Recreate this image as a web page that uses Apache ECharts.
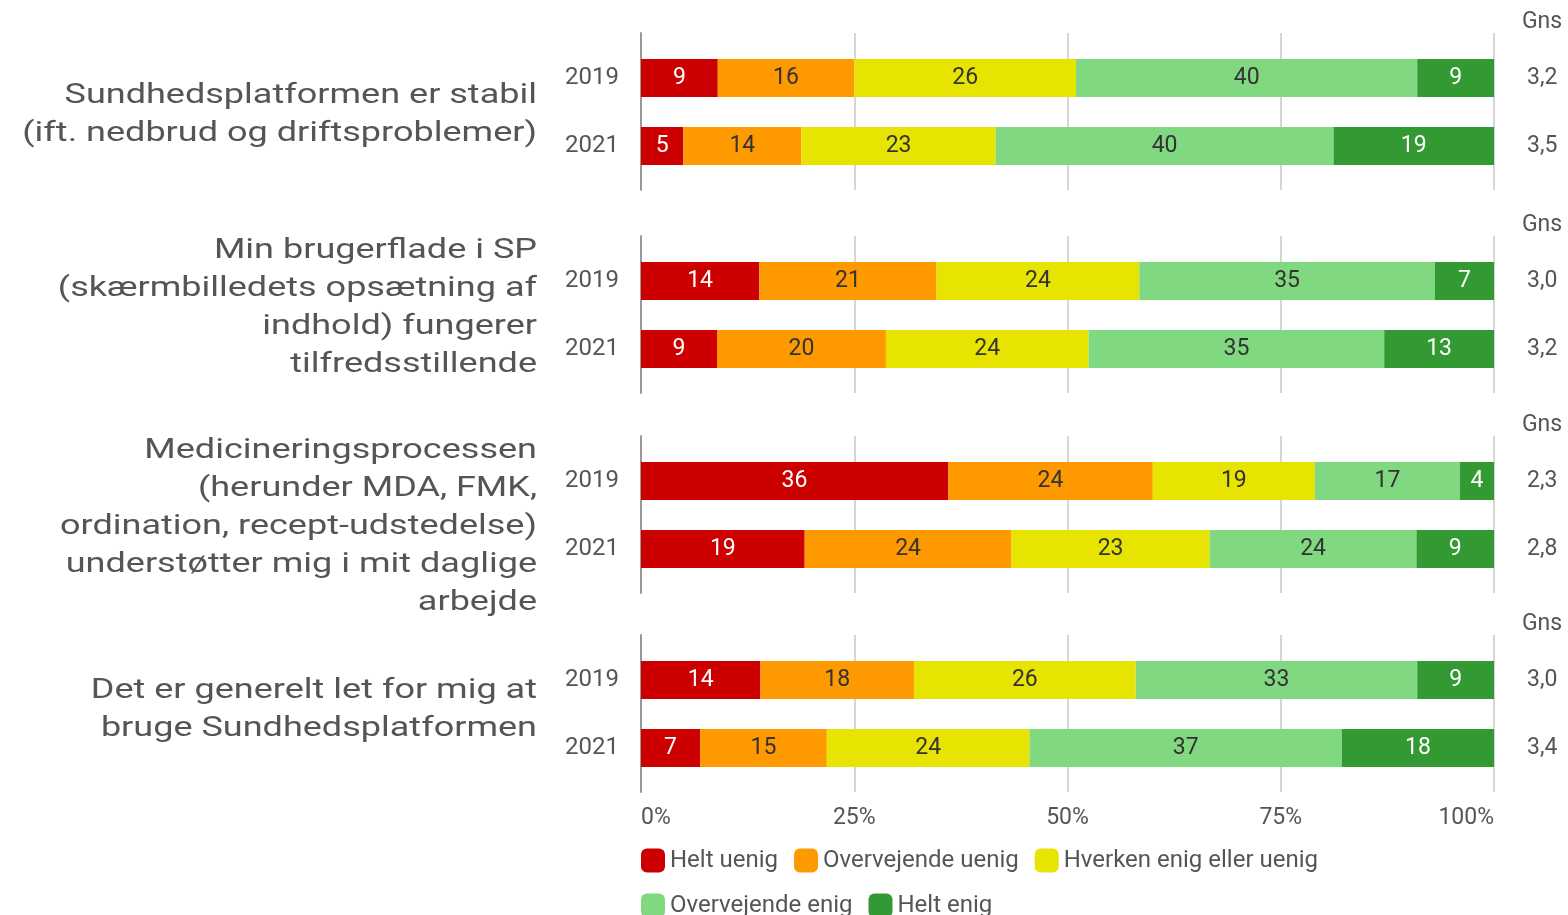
<!DOCTYPE html>
<html>
<head>
<meta charset="utf-8">
<script src="https://cdn.jsdelivr.net/npm/echarts@6/dist/echarts.min.js"></script>
<style>
  html, body { margin: 0; background: #fff; }
  #chart { width: 1568px; height: 915px; }
</style>
</head>
<body>
<div id="chart"></div>
<script>
// spørgsmål (venstre tekst)
const questions = [
  'Sundhedsplatformen er stabil\n(ift. nedbrud og driftsproblemer)',
  'Min brugerflade i SP\n(skærmbilledets opsætning af\nindhold) fungerer\ntilfredsstillende',
  'Medicineringsprocessen\n(herunder MDA, FMK,\nordination, recept-udstedelse)\nunderstøtter mig i mit daglige\narbejde',
  'Det er generelt let for mig at\nbruge Sundhedsplatformen'
];
const years = ['2019', '2021'];
const answers = ['Helt uenig', 'Overvejende uenig', 'Hverken enig eller uenig', 'Overvejende enig', 'Helt enig'];

// procent pr. svar (rækkefølge som answers), [2019, 2021]
const stabil = [[9, 16, 26, 40, 9], [5, 14, 23, 40, 19]];
const brugerflade = [[14, 21, 24, 35, 7], [9, 20, 24, 35, 13]];
const medicinering = [[36, 24, 19, 17, 4], [19, 24, 23, 24, 9]];
const letAtBruge = [[14, 18, 26, 33, 9], [7, 15, 24, 37, 18]];
const panels = [stabil, brugerflade, medicinering, letAtBruge];

// gennemsnit (Gns) pr. år
const gennemsnit = [['3,2', '3,5'], ['3,0', '3,2'], ['2,3', '2,8'], ['3,0', '3,4']];

const colors = ['#cc0000', '#ff9900', '#e6e400', '#80d880', '#339933'];
const labelColors = ['#fff', '#333', '#333', '#333', '#fff'];

// layout
const panelTops = [33, 236, 436, 635];
const panelHeight = 157;
const textCenters = [115, 308, 527, 710];
const gridLeft = 641;
const gridRight = 74;
const FONT = 'Roboto, sans-serif';

const chart = echarts.init(document.getElementById('chart'));

const grid = [];
const xAxis = [];
const yAxis = [];
const series = [];
const graphic = [];

panels.forEach((rows, p) => {
  const top = panelTops[p];
  const bgIdx = p * 2;
  const barIdx = p * 2 + 1;

  // baggrund med lodrette linjer
  grid.push({ left: gridLeft, right: gridRight, top: top, height: panelHeight });
  // grid til søjler
  grid.push({ left: gridLeft, right: gridRight, top: top + 11, height: 136 });

  const isLast = p === panels.length - 1;
  xAxis.push({
    type: 'value', gridIndex: bgIdx, min: 0, max: 100, interval: 25,
    axisLine: { show: false }, axisTick: { show: false },
    splitLine: { show: true, lineStyle: { color: '#c8c8c8', width: 1.5 } },
    axisLabel: {
      show: isLast, formatter: '{value}%', color: '#555', fontSize: 23,
      fontFamily: FONT, margin: 15, alignMinLabel: 'left', alignMaxLabel: 'right'
    }
  });
  xAxis.push({
    type: 'value', gridIndex: barIdx, min: 0, max: 100,
    show: false, splitLine: { show: false }
  });

  yAxis.push({
    type: 'value', gridIndex: bgIdx, min: 0, max: 1,
    axisLine: { show: true, lineStyle: { color: '#999', width: 2 } },
    axisTick: { show: false }, axisLabel: { show: false }, splitLine: { show: false }
  });
  yAxis.push({
    type: 'category', gridIndex: barIdx, data: years, inverse: true,
    axisLine: { show: false }, axisTick: { show: false },
    axisLabel: { color: '#555', fontSize: 24, fontFamily: FONT, margin: 22, padding: [3, 0, 0, 0] }
  });
  yAxis.push({
    type: 'category', gridIndex: barIdx, data: gennemsnit[p], inverse: true, position: 'right',
    axisLine: { show: false }, axisTick: { show: false },
    axisLabel: { color: '#555', fontSize: 23, fontFamily: FONT, margin: 33, padding: [3, 0, 0, 0] }
  });

  answers.forEach((name, a) => {
    series.push({
      name: name,
      type: 'bar',
      stack: 'panel' + p,
      xAxisIndex: barIdx,
      yAxisIndex: p * 3 + 1,
      barWidth: 38,
      itemStyle: { color: colors[a] },
      label: {
        show: true, position: 'inside', color: labelColors[a],
        fontSize: 23, fontFamily: FONT, padding: [3, 0, 0, 0],
        formatter: (prm) => prm.data.raw
      },
      data: rows.map(r => {
        const sum = r.reduce((s, v) => s + v, 0);
        return { value: r[a] / sum * 100, raw: r[a] };
      })
    });
  });

  graphic.push({
    type: 'text', x: 537, y: textCenters[p], scaleX: 1.31,
    style: {
      text: questions[p], align: 'right', verticalAlign: 'middle',
      fontSize: 27.5, fontFamily: FONT, fill: '#555', lineHeight: 38
    }
  });
  graphic.push({
    type: 'text', x: 1542, y: top - 11,
    style: {
      text: 'Gns', align: 'center', verticalAlign: 'middle',
      fontSize: 23, fontFamily: FONT, fill: '#555'
    }
  });
});

const option = {
  backgroundColor: '#fff',
  animation: false,
  grid: grid,
  xAxis: xAxis,
  yAxis: yAxis,
  legend: {
    data: answers,
    left: gridLeft,
    top: 846,
    width: 760,
    padding: 0,
    itemWidth: 24,
    itemHeight: 24,
    itemGap: 16,
    icon: 'roundRect',
    textStyle: { color: '#555', fontSize: 24, fontFamily: FONT, lineHeight: 29 }
  },
  graphic: graphic,
  series: series
};

chart.setOption(option);
</script>
</body>
</html>
